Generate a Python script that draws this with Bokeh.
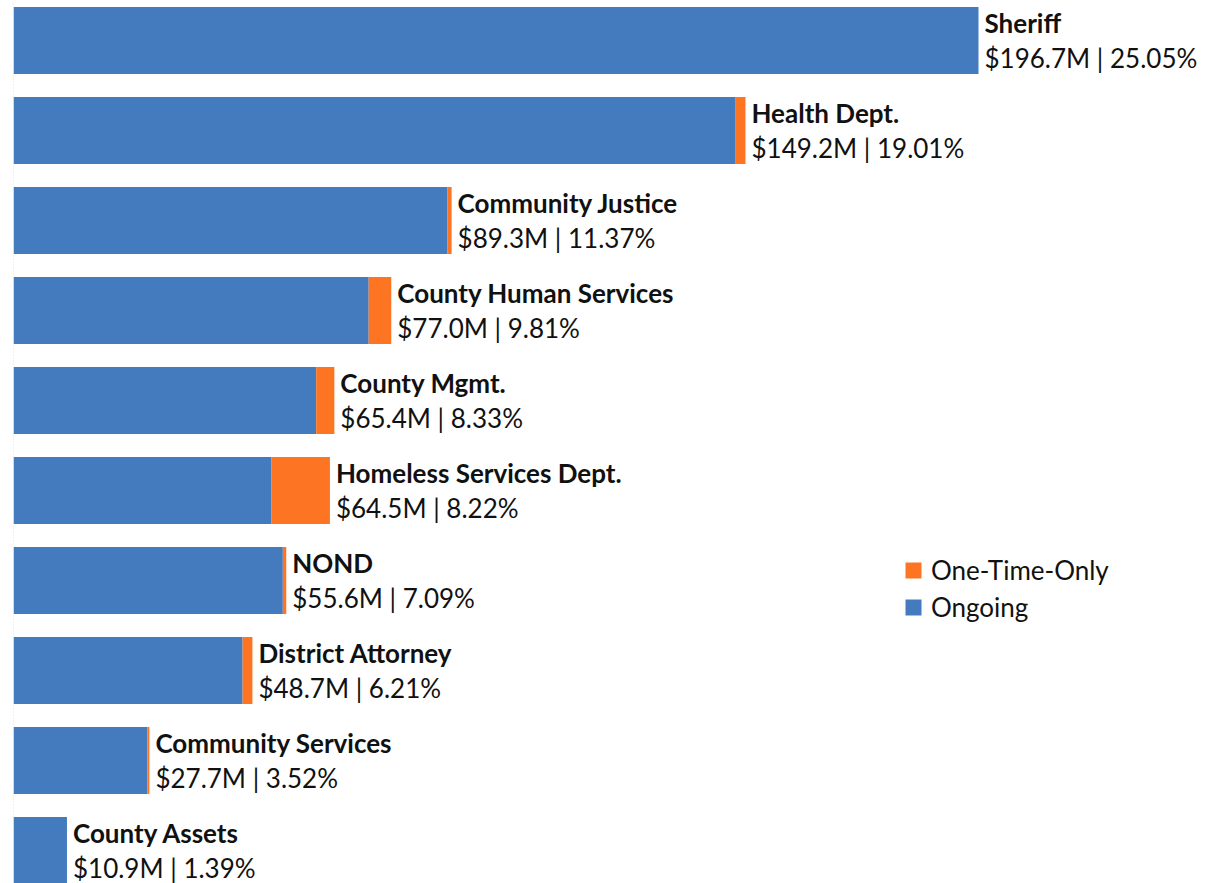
from bokeh.plotting import figure
from bokeh.models import ColumnDataSource, Range1d, Span, Legend, LegendItem
from bokeh.core.properties import value
from bokeh.embed import file_html
from bokeh.resources import INLINE

departments = ["Sheriff", "Health Dept.", "Community Justice", "County Human Services",
               "County Mgmt.", "Homeless Services Dept.", "NOND", "District Attorney",
               "Community Services", "County Assets"]
totals = [196.7, 149.2, 89.3, 77.0, 65.4, 64.5, 55.6, 48.7, 27.7, 10.9]
percents = [25.05, 19.01, 11.37, 9.81, 8.33, 8.22, 7.09, 6.21, 3.52, 1.39]
one_time_only = [0.0, 2.0, 0.9, 4.6, 3.7, 11.9, 0.7, 2.0, 0.4, 0.0]
ongoing = [round(t - o, 1) for t, o in zip(totals, one_time_only)]

BLUE = "#447BBE"
ORANGE = "#FD7522"
FONT = "Lato"

ys = [-i for i in range(len(departments))]
src = ColumnDataSource(dict(
    y=ys,
    ongoing=ongoing,
    one=one_time_only,
    total=totals,
    name=departments,
    val=[f"${t:.1f}M | {p:.2f}%" for t, p in zip(totals, percents)],
))

W, H = 1209, 883
top = 40 / 90
p = figure(width=W, height=H, output_backend="svg", toolbar_location=None,
           x_range=Range1d(0, (1209 - 13) / 4.906), y_range=Range1d(top - H / 90, top),
           min_border_left=13, min_border_right=0, min_border_top=0, min_border_bottom=0)
p.axis.visible = False
p.grid.visible = False
p.outline_line_color = None

bh = 67 / 90
r_on = p.hbar(y="y", left=0, right="ongoing", height=bh, source=src,
              fill_color=BLUE, line_color=None)
r_one = p.hbar(y="y", left="ongoing", right="total", height=bh, source=src,
               fill_color=ORANGE, line_color=None)

p.add_layout(Span(location=0, dimension="height", line_color="#c8c8c8",
                  line_dash="1 2", line_width=1))

p.text(x="total", y="y", text="name", source=src, x_offset=6, y_offset=-18,
       text_font=value(FONT), text_font_style="bold", text_font_size="26px",
       text_baseline="middle", text_align="left", text_color="#111111")
p.text(x="total", y="y", text="val", source=src, x_offset=6, y_offset=17,
       text_font=value(FONT), text_font_size="26px",
       text_baseline="middle", text_align="left", text_color="#111111")

legend = Legend(items=[LegendItem(label="One-Time-Only", renderers=[r_one]),
                       LegendItem(label="Ongoing", renderers=[r_on])],
                location=(890, 260))
legend.label_text_font = FONT
legend.label_text_font_size = "26px"
legend.label_text_color = "#111111"
legend.glyph_width = 20
legend.glyph_height = 20
legend.label_height = 30
legend.spacing = 5
legend.padding = 0
legend.margin = 0
legend.label_standoff = 8
legend.border_line_color = None
legend.background_fill_alpha = 0
p.add_layout(legend)

open("out.html", "w").write(file_html(p, INLINE))
